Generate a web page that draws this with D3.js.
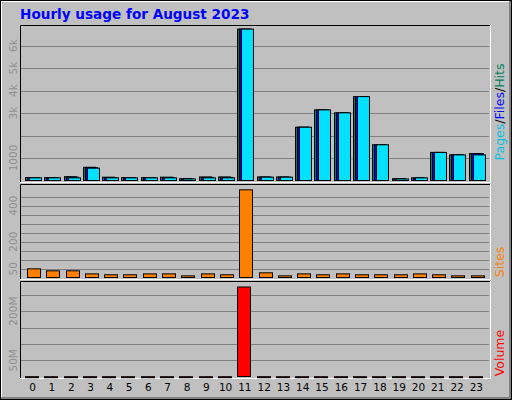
<!DOCTYPE html><html><head><meta charset="utf-8">
<script src="https://cdn.jsdelivr.net/npm/d3@7"></script>
<style>body{margin:0;background:#fff}</style></head><body><svg width="512" height="400"></svg>
<script>
const hours = d3.range(24).map(String);
const hits  = [150,150,190,610,170,150,150,170,100,180,180,6750,180,180,2390,3160,3030,3750,1610,100,140,1270,1160,1220];
const files = [140,140,170,590,150,140,140,150,90,160,160,6750,170,170,2390,3160,3030,3750,1610,90,130,1270,1160,1220];
const pages = [140,140,140,570,140,140,140,140,90,140,140,6750,170,170,2390,3160,3030,3750,1610,90,140,1270,1160,1160];
const sites = [52,41,41,24,19,19,24,24,13,24,19,491,30,13,24,19,24,19,19,19,24,19,13,13];
const volume = [1.5,1.5,1.5,1.5,1.5,1.5,1.5,1.5,1.5,1.5,1.5,275,1.5,1.5,1.5,1.5,1.5,1.5,1.5,1.5,1.5,1.5,1.5,1.5];
const hitTicks = [1000,2000,3000,4000,5000,6000], hitLabels={1000:"1000",3000:"3k",4000:"4k",5000:"5k",6000:"6k"};
const siteTicks = d3.range(50,451,50), siteLabels={50:"50",200:"200",400:"400"};
const volTicks = [50,100,150,200,250], volLabels={50:"50M",200:"200M"};

const svg = d3.select("svg");
svg.append("rect").attr("width",512).attr("height",400).attr("fill","#c0c0c0");
svg.append("path").attr("d","M1,399V1H511").attr("stroke","#fff").attr("stroke-width",2).attr("fill","none");
svg.append("path").attr("d","M1,399H511V1").attr("stroke","#808080").attr("stroke-width",4).attr("fill","none");
svg.append("rect").attr("x",0.5).attr("y",0.5).attr("width",511).attr("height",399).attr("fill","none").attr("stroke","#000");
svg.append("text").attr("x",20).attr("y",19).text("Hourly usage for August 2023")
  .attr("font-family","DejaVu Sans").attr("font-weight","bold").attr("font-size",13.6).attr("fill","#0000ff");

const x = d3.scaleBand().domain(hours).range([21,484]);
function panel(y0,y1){
  svg.append("rect").attr("x",20).attr("y",y0).attr("width",470).attr("height",y1-y0).attr("fill","#c0c0c0");
  svg.append("path").attr("d",`M20.5,${y1}V${y0+0.5}H490`).attr("stroke","#000").attr("fill","none");
  svg.append("path").attr("d",`M20,${y1+0.5}H490.5V${y0}`).attr("stroke","#fff").attr("fill","none");
}
function grid(y,ticks,labels){
  ticks.forEach(t=>{
    svg.append("line").attr("x1",21).attr("x2",489).attr("y1",Math.round(y(t))+0.5).attr("y2",Math.round(y(t))+0.5).attr("stroke","#808080");
    if(labels[t]) svg.append("text").attr("transform",`translate(17,${y(t)}) rotate(-90)`).attr("text-anchor","middle")
      .attr("font-family","DejaVu Sans").attr("font-size",10.5).attr("fill","#909090").text(labels[t]);
  });
}
function bar(xx,yy,w,base,col){
  svg.append("rect").attr("x",xx+0.5).attr("y",yy+0.5).attr("width",w).attr("height",Math.max(base-yy,1)).attr("fill",col).attr("stroke","#000");
}
// top
panel(25,182);
const yH = d3.scaleLinear().domain([0,1000]).range([180.5,158]);
grid(yH,hitTicks,hitLabels);
hours.forEach((h,i)=>{
  const bx = Math.round(x(h))+4;
  bar(bx,yH(hits[i]),12,180,"#00805c");
  bar(bx+2,yH(files[i]),12,180,"#0000ff");
  bar(bx+4,yH(pages[i]),12,180,"#00e0ff");
});
// sites
panel(184,279);
const yS = d3.scaleLinear().domain([0,50]).range([277.7,268.7]);
grid(yS,siteTicks,siteLabels);
hours.forEach((h,i)=>bar(Math.round(x(h))+6,yS(sites[i]),13,277,"#ff8000"));
// volume
panel(281,378);
const yV = d3.scaleLinear().domain([0,50]).range([376.7,360.3]);
grid(yV,volTicks,volLabels);
hours.forEach((h,i)=>bar(Math.round(x(h))+4,yV(volume[i]),13,376,"#ff0000"));
// x labels
hours.forEach(h=>svg.append("text").attr("x",x(h)+x.bandwidth()/2+2).attr("y",391).attr("text-anchor","middle")
  .attr("font-family","DejaVu Sans").attr("font-size",10.5).attr("fill","#000").text(h));
// right labels
function rlab(y,parts){
  const t = svg.append("text").attr("transform",`translate(504,${y}) rotate(-90)`).attr("text-anchor","middle")
    .attr("font-family","DejaVu Sans").attr("font-size",12.5);
  parts.forEach(p=>t.append("tspan").attr("fill",p[1]).text(p[0]));
}
rlab(112,[["Pages","#00c0e0"],["/","#000"],["Files","#0000ff"],["/","#000"],["Hits","#00805c"]]);
rlab(262,[["Sites","#ff8000"]]);
rlab(353,[["Volume","#ff0000"]]);
</script></body></html>
